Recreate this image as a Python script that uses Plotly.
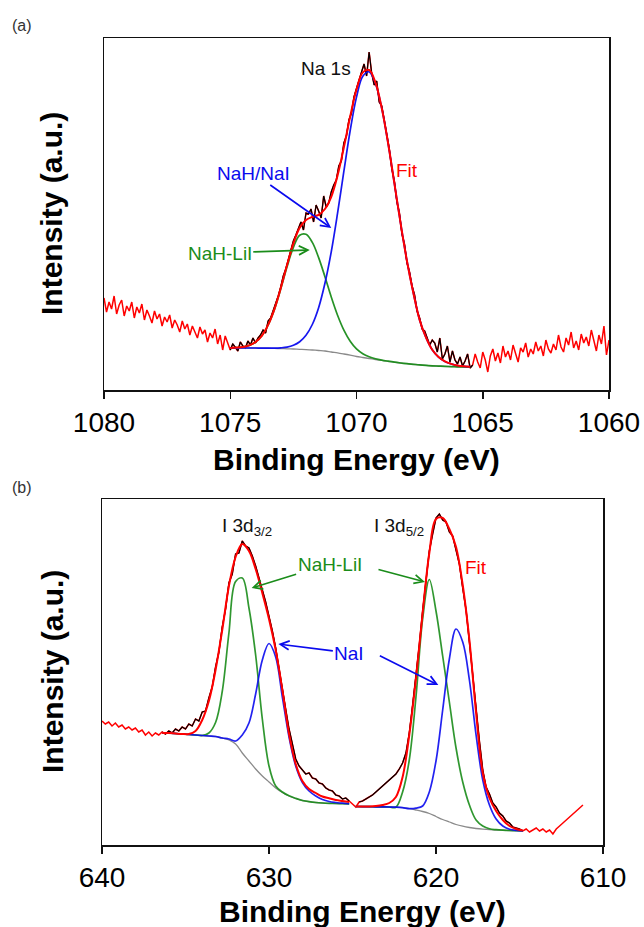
import numpy as np
import plotly.graph_objects as go

# ---------------- Panel (a): Na 1s ----------------
na_E_raw = np.round(np.linspace(1080, 1060, 201), 1)          # 0.1 eV steps
na_raw = [
    92, 78, 88, 81, 94, 76, 85, 90, 74, 84,
    79, 88, 72, 83, 77, 86, 70, 80, 74, 67,
    79, 71, 76, 64, 73, 68, 75, 62, 70, 65,
    58, 69, 61, 66, 55, 64, 58, 52, 63, 56,
    60, 48, 57, 52, 61, 46, 55, 40, 54, 47,
    40,
    46, 43, 39, 48, 44, 42, 49, 45, 52, 47,
    52, 55, 60, 57, 69, 72, 79, 86, 94, 103,
    114, 121, 130, 139, 149, 155, 162, 168, 160, 177,
    176, 181, 168, 185, 179, 172, 194, 183, 187, 198,
    205, 210, 224, 229, 247, 254, 270, 277, 293, 302,
    311, 318, 326, 314, 338, 317, 305, 309, 288, 284,
    270, 256, 241, 221, 209, 188, 177, 156, 146, 127,
    118, 104, 95, 79, 72, 61, 59, 52, 45, 50,
    47, 38, 52, 31, 36, 44, 28, 39, 30, 26,
    33, 24, 29, 36, 22, 25,
    36, 28, 22, 38,
    30, 18, 34, 41, 29, 37, 27, 44, 33, 39,
    30, 45, 35, 28, 42, 38, 47, 33, 41, 36,
    48, 39, 44, 34, 50, 41, 37, 46, 40, 55,
    43, 38, 52, 45, 58, 42, 49, 40, 56, 47,
    53, 44, 60, 48, 39, 55, 46, 64, 35, 50,
]
na_fit_range = (1075.0, 1065.4)

na_E_comp = np.round(np.linspace(1075, 1065.5, 39), 2)       # 0.25 eV steps
na_bg = [42, 42, 42, 42, 42, 41.9, 41.8, 41.6, 41.4, 41.2, 41, 40.7, 40.4, 40,
         39.5, 39, 38, 37.1, 36, 34.8, 33.5, 32.5, 31.5, 30.5, 29.6, 28.7, 27.8,
         27, 26.3, 25.7, 25.1, 24.6, 24.2, 23.9, 23.6, 23.4, 23.2, 23.1, 23]
na_nahlii = [42.1, 42.4, 43, 44.6, 48, 54.2, 65, 80.6, 101, 123.2, 142.7, 154.7,
             155.7, 147.6, 132.4, 113.3, 93, 74.8, 59.9, 48.8, 41.1, 36.3, 33.3,
             31.3, 29.9, 28.8, 27.8, 27, 26.3, 25.7, 25.1, 24.6, 24.2, 23.9, 23.6,
             23.4, 23.2, 23.1, 23]
na_nahnai = [42, 42, 42, 42, 42, 41.9, 41.9, 41.9, 42.2, 42.9, 44.7, 48.2, 54.7,
             65.5, 82.3, 106.7, 138.2, 176.8, 218.8, 259.5, 292.9, 313.8, 318.2,
             306.6, 281.6, 246.9, 206.7, 166.1, 128.8, 97.3, 70.1, 52.6, 40.2,
             32.9, 28.6, 26.1, 24.5, 23.7, 23.3]

# ---------------- Panel (b): I 3d ----------------
i_E_raw = np.round(np.linspace(640, 611.2, 145), 1)           # 0.2 eV steps
i_raw = [
    124, 121, 123, 119, 122, 118, 120, 116, 118, 115,
    117, 113, 115, 110, 113, 109, 112, 110, 113,
    111, 114, 112, 116, 114, 118, 116, 121, 119, 126,
    124, 133, 134, 147, 158, 178, 193, 218, 236, 262,
    271, 291, 292, 304, 299, 297, 289, 279, 268, 255,
    243, 229, 214, 197, 178, 157, 136, 116, 100, 86,
    79, 75, 71, 72, 67, 66, 62, 61, 57, 55,
    54, 50, 49, 46, 47, 44,
    41, 38, 43,
    44, 46, 48, 50, 53, 56, 58, 61, 64, 67,
    71, 76, 82, 92, 112, 140, 168, 200, 234, 263,
    294, 311, 327, 331, 325, 323, 313, 309, 295, 281,
    257, 235, 203, 170, 130, 104, 75, 58, 51, 42,
    38, 32, 29, 24, 22, 18, 17, 16, 14,
    16, 13, 15, 17, 14, 16, 13, 15, 11, 16, 19, 22, 24, 28, 31, 34, 36, 40,
]
i_fit_ranges = [(636.4, 625.2), (624.6, 614.8)]

# I 3d3/2 region
i32_E = np.round(np.linspace(636.4, 625.2, 29), 2)           # 0.4 eV steps
i32_bg = [112, 112, 111.5, 111, 110.5, 110, 109.5, 109, 108.5, 107, 105, 101, 92,
          84, 76, 69, 63, 57, 52.5, 49, 46.5, 44.5, 43.3, 42.5, 42, 41.7, 41.5,
          41.3, 41.2]
i32_nahlii = [112, 112, 111.5, 111, 110.5, 110, 109.5, 112, 122.5, 153.5, 212,
              263.5, 267, 237, 190, 126, 79, 59, 53, 49.2, 46.6, 44.5, 43.3, 42.5,
              42, 41.7, 41.5, 41.3, 41.2]
i32_nai = [112, 112, 111.5, 111, 110.5, 110, 109.5, 109, 108.5, 107, 106, 104, 110,
           122, 151, 185, 201.5, 188, 148, 108, 79, 62.5, 54, 49, 45.5, 43.5, 42.5,
           41.8, 41.4]
i32_fit = [112, 112, 111.5, 111, 111, 114, 125, 144, 175, 215, 259, 288, 301, 294,
           276, 252, 226, 195, 155, 111, 81, 64, 56, 52, 48.5, 46.7, 45, 44, 43]

# I 3d5/2 region
i52_E = np.round(np.linspace(624.8, 614.8, 26), 2)           # 0.4 eV steps
i52_bg = [38.5, 38.4, 38.3, 38.2, 38.1, 38, 37.8, 37.3, 36.3, 35, 33.5, 31.5, 28.5,
          25.5, 23, 20.5, 18.8, 17.5, 16.5, 15.8, 15.3, 15, 14.8, 14.5, 14.3, 14.2]
i52_nahlii = [38.5, 38.4, 38.3, 38.2, 38.1, 38, 37.8, 53, 85, 148, 226, 265.5, 234,
              189, 143, 97, 63, 40, 25, 19, 16.2, 15.3, 14.8, 14.5, 14.3, 14.2]
i52_nai = [38.5, 38.4, 38.3, 38.2, 38.1, 38, 37.8, 37.3, 36.3, 36.8, 39, 53, 84,
           135, 186, 216, 203, 165, 110, 65, 40, 26, 19, 15.8, 14.6, 14.2]
i52_fit = [38.5, 38.4, 38.5, 39, 40, 42, 48, 68, 110, 166, 232, 292, 326, 327, 316,
           298, 260, 205, 132, 72, 47, 34, 25, 19, 16, 14.5]

# ---------------- styling ----------------
RED = "#ff0000"
BLUE = "#0a0aee"
GREEN = "#1a8c1a"
GRAY = "#8a8a8a"
FONT = "Arial, Liberation Sans, sans-serif"

W, H = 644, 927


def px(x):
    return x / W


def py(y):
    return 1 - y / H


def seg(E, y, lo, hi):
    E = np.asarray(E)
    y = np.asarray(y, dtype=float)
    m = (E <= lo + 1e-9) & (E >= hi - 1e-9)
    return E[m], y[m]


fig = go.Figure()

# ---- panel a traces
fig.add_trace(go.Scatter(x=na_E_raw, y=na_raw, mode="lines",
                         line=dict(color=RED, width=1.5), xaxis="x", yaxis="y"))
xs, ys = seg(na_E_raw, na_raw, *na_fit_range)
fig.add_trace(go.Scatter(x=xs, y=ys, mode="lines",
                         line=dict(color="black", width=1.2), xaxis="x", yaxis="y"))
fig.add_trace(go.Scatter(x=na_E_comp, y=na_bg, mode="lines", line_shape="spline",
                         line=dict(color=GRAY, width=1.3), xaxis="x", yaxis="y"))
fig.add_trace(go.Scatter(x=na_E_comp, y=na_nahlii, mode="lines", line_shape="spline",
                         line=dict(color=GREEN, width=1.7), opacity=0.95,
                         xaxis="x", yaxis="y"))
fig.add_trace(go.Scatter(x=na_E_comp, y=na_nahnai, mode="lines", line_shape="spline",
                         line=dict(color=BLUE, width=1.7), opacity=0.95,
                         xaxis="x", yaxis="y"))
na_fit = np.array(na_nahlii) + np.array(na_nahnai) - np.array(na_bg)
fig.add_trace(go.Scatter(x=na_E_comp, y=na_fit, mode="lines", line_shape="spline",
                         line=dict(color=RED, width=2), xaxis="x", yaxis="y"))

# ---- panel b traces
fig.add_trace(go.Scatter(x=i_E_raw, y=i_raw, mode="lines",
                         line=dict(color=RED, width=1.5), xaxis="x2", yaxis="y2"))
for lo, hi in i_fit_ranges:
    xs, ys = seg(i_E_raw, i_raw, lo, hi)
    fig.add_trace(go.Scatter(x=xs, y=ys, mode="lines",
                             line=dict(color="black", width=1.2),
                             xaxis="x2", yaxis="y2"))
for E, bg, g, b, f in [(i32_E, i32_bg, i32_nahlii, i32_nai, i32_fit),
                       (i52_E, i52_bg, i52_nahlii, i52_nai, i52_fit)]:
    fig.add_trace(go.Scatter(x=E, y=bg, mode="lines", line_shape="spline",
                             line=dict(color=GRAY, width=1.3), xaxis="x2", yaxis="y2"))
    fig.add_trace(go.Scatter(x=E, y=g, mode="lines", line_shape="spline",
                             line=dict(color=GREEN, width=1.7), opacity=0.9,
                             xaxis="x2", yaxis="y2"))
    fig.add_trace(go.Scatter(x=E, y=b, mode="lines", line_shape="spline",
                             line=dict(color=BLUE, width=1.7), opacity=0.9,
                             xaxis="x2", yaxis="y2"))
    fig.add_trace(go.Scatter(x=E, y=f, mode="lines", line_shape="spline",
                             line=dict(color=RED, width=2), xaxis="x2", yaxis="y2"))

axis_common = dict(showgrid=False, zeroline=False, showline=True, mirror=True,
                   linecolor="#111", linewidth=1.5, automargin=False)
xcommon = dict(axis_common, ticks="outside", ticklen=7, tickwidth=1.5,
               tickcolor="#111", tickfont=dict(family=FONT, size=28, color="black"))
ycommon = dict(axis_common, showticklabels=False, ticks="")

fig.update_layout(
    width=W, height=H, autosize=False,
    margin=dict(l=0, r=0, t=0, b=0, pad=0),
    paper_bgcolor="white", plot_bgcolor="white",
    showlegend=False,
    xaxis=dict(xcommon, domain=[px(104), px(609)], range=[1080, 1060],
               tickvals=[1080, 1075, 1070, 1065, 1060], anchor="y"),
    yaxis=dict(ycommon, domain=[py(390), py(38)], range=[0, 352], anchor="x"),
    xaxis2=dict(xcommon, domain=[px(102), px(603)], range=[640, 610],
                tickvals=[640, 630, 620, 610], anchor="y2"),
    yaxis2=dict(ycommon, domain=[py(845), py(499)], range=[0, 346], anchor="x2"),
)

ann = []
# axis titles
for (x, y) in [(356.5, 459), (362, 911)]:
    ann.append(dict(text="<b>Binding Energy (eV)</b>", x=px(x), y=py(y),
                    xref="paper", yref="paper", showarrow=False,
                    font=dict(family=FONT, size=30, color="black"),
                    xanchor="center", yanchor="middle"))
for (x, y) in [(52, 214), (52, 672)]:
    ann.append(dict(text="<b>Intensity (a.u.)</b>", x=px(x), y=py(y),
                    xref="paper", yref="paper", showarrow=False, textangle=-90,
                    font=dict(family=FONT, size=30, color="black"),
                    xanchor="center", yanchor="middle"))
# panel labels
for (t, x, y) in [("(a)", 22, 25), ("(b)", 22, 487)]:
    ann.append(dict(text=t, x=px(x), y=py(y), xref="paper", yref="paper",
                    showarrow=False, font=dict(family=FONT, size=16, color="#333"),
                    xanchor="center", yanchor="middle"))

LF = 19
# plain labels
labels = [("Na 1s", 1071.2, 322, "#111", "x", "y"),
          ("Fit", 1068.0, 220, RED, "x", "y"),
          ("I 3d<sub>3/2</sub>", 631.3, 318, "#111", "x2", "y2"),
          ("I 3d<sub>5/2</sub>", 622.2, 318, "#111", "x2", "y2"),
          ("Fit", 617.6, 278, RED, "x2", "y2")]
for t, x, y, c, xr, yr in labels:
    ann.append(dict(text=t, x=x, y=y, xref=xr, yref=yr, showarrow=False,
                    font=dict(family=FONT, size=LF, color=c)))

# labels with arrows: text sits at the arrow tail (tip + ax, ay in px)
arrow_labels = [("NaH/NaI", 1071.0, 162, -78, -55, BLUE, "x", "y"),
                ("NaH-LiI", 1071.85, 140, -90, 3, GREEN, "x", "y"),
                ("NaH-LiI", 631.04, 257, 78, -24, GREEN, "x2", "y2"),
                ("NaI", 629.44, 201, 71, 9, BLUE, "x2", "y2")]
for t, x, y, ax, ay, c, xr, yr in arrow_labels:
    ann.append(dict(text=t, x=x, y=y, xref=xr, yref=yr, ax=ax, ay=ay,
                    showarrow=True, arrowhead=5, arrowsize=1.1, arrowwidth=1.6,
                    arrowcolor=c, standoff=0, font=dict(family=FONT, size=LF, color=c)))

# second arrows that share a label
arrows = [(620.66, 263, -48, -13, GREEN, "x2", "y2"),
          (619.86, 160, -60, -30, BLUE, "x2", "y2")]
for x, y, ax, ay, c, xr, yr in arrows:
    ann.append(dict(text="", x=x, y=y, xref=xr, yref=yr, ax=ax, ay=ay,
                    showarrow=True, arrowhead=5, arrowsize=1.1, arrowwidth=1.6,
                    arrowcolor=c, standoff=0))

fig.update_layout(annotations=ann)
fig.write_html(
    "out.html",
    config={"displayModeBar": False, "staticPlot": True},
    post_script="document.body.style.margin='0';"
                "document.body.style.overflow='hidden';",
)
